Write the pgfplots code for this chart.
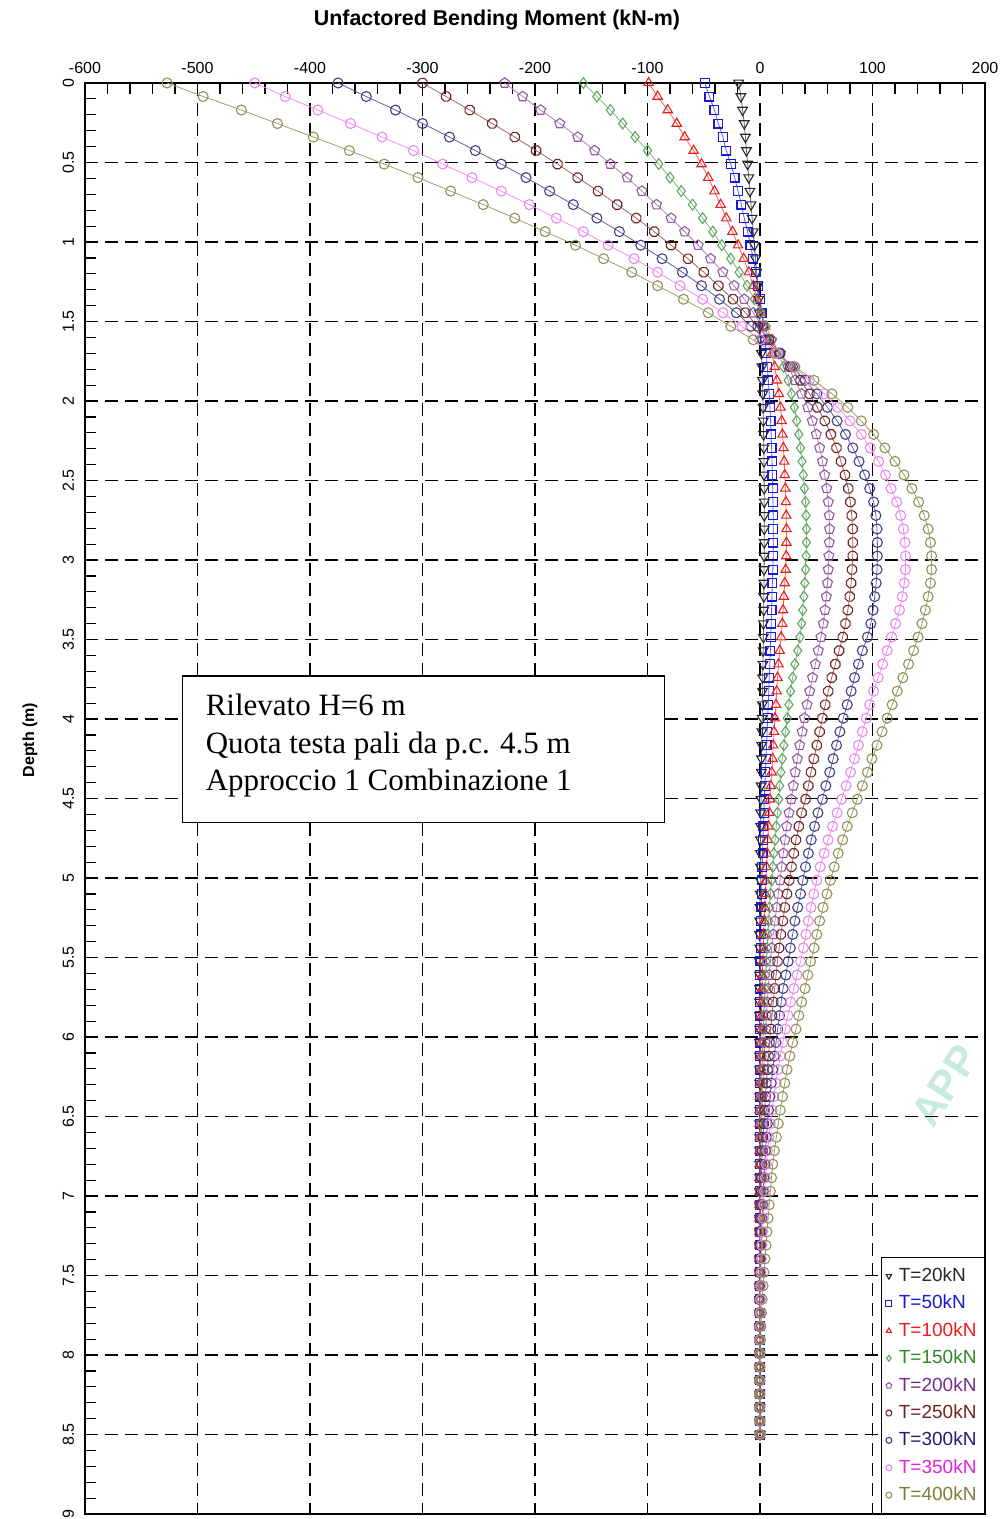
\documentclass[border=0pt]{standalone}
\usepackage{fontspec}
\setmainfont{Liberation Sans}
\newfontfamily\timesfont{Liberation Serif}
\usepackage{pgfplots}
\usepackage{pgfplotstable}
\pgfplotsset{compat=1.18}

\definecolor{c20}{RGB}{40,40,40}
\definecolor{c50}{RGB}{25,25,215}
\definecolor{c100}{RGB}{235,30,30}
\definecolor{c150}{RGB}{45,135,45}
\definecolor{c200}{RGB}{120,45,140}
\definecolor{c250}{RGB}{115,35,35}
\definecolor{c300}{RGB}{30,30,115}
\definecolor{c350}{RGB}{225,35,225}
\definecolor{c400}{RGB}{125,125,60}
\definecolor{wm}{RGB}{200,236,220}

\pgfdeclareplotmark{octagon}{%
  \pgfpathmoveto{\pgfqpointpolar{22.5}{\pgfplotmarksize}}%
  \pgfpathlineto{\pgfqpointpolar{67.5}{\pgfplotmarksize}}%
  \pgfpathlineto{\pgfqpointpolar{112.5}{\pgfplotmarksize}}%
  \pgfpathlineto{\pgfqpointpolar{157.5}{\pgfplotmarksize}}%
  \pgfpathlineto{\pgfqpointpolar{202.5}{\pgfplotmarksize}}%
  \pgfpathlineto{\pgfqpointpolar{247.5}{\pgfplotmarksize}}%
  \pgfpathlineto{\pgfqpointpolar{292.5}{\pgfplotmarksize}}%
  \pgfpathlineto{\pgfqpointpolar{337.5}{\pgfplotmarksize}}%
  \pgfpathclose
  \pgfusepathqstroke
}

\pgfplotstableread{
d t20 t50 t100 t150 t200 t250 t300 t350 t400
0 -19 -49 -99 -157 -227 -300 -375 -449 -527
0.085 -17 -45 -91 -145 -211 -279 -350 -422 -495
0.17 -15.5 -40.5 -82 -133 -195 -258 -324 -393 -461
0.255 -14 -37 -74 -122 -178 -238 -300 -364 -429
0.34 -13 -33 -67 -111 -162 -218 -276 -336 -397
0.425 -12 -30 -59 -100 -147 -199 -253 -308 -365
0.51 -11 -26 -52 -90 -133 -180 -230 -282 -334
0.595 -10 -22.5 -46 -80 -118 -162 -208 -256 -304
0.68 -9 -19.5 -40.5 -70 -105 -144 -187 -230 -275
0.765 -8 -16.5 -35 -60 -92 -127 -166 -205 -246
0.85 -7 -14 -30 -51 -79 -110 -145 -181 -218
0.935 -6 -11 -24.5 -42 -67 -94 -125 -157 -191
1.02 -5 -8.5 -19.5 -34 -55 -79 -106 -135 -164
1.105 -4 -6 -14.5 -26 -44 -64 -87 -112 -139
1.19 -3 -4 -10 -18.5 -33 -50 -69 -91 -114
1.275 -2 -2 -6 -11.5 -23 -37 -52 -71 -91
1.36 -1.2 0 -2.5 -5 -14 -24 -36 -51 -68
1.445 -0.5 1.5 1 0.5 -6 -13 -21 -33 -46
1.53 0.2 3 4.5 5.5 2 -2 -8 -16 -26
1.615 0.8 4.3 7.5 11 10 8 5 0 -6
1.7 1.3 5.5 10.5 16.5 18 18 17 15 13
1.785 1.8 6.5 13 21 25 27 29 30 31
1.87 2.2 7.4 15 25 31 36 40 44 48
1.955 2.5 8.2 16.8 28 37 44 50.5 57 64
2.04 2.8 8.8 18.2 30.5 42.5 51 60 69 78
2.125 3.0 9.4 19.2 32.6 46.5 57.5 68.5 80 90
2.21 3.2 9.9 20 34.5 50 63 76 90 101
2.295 3.4 10.3 20.8 36 53 68 82.5 98 111
2.38 3.5 10.7 21.5 37.3 55.5 72 88 105.5 120
2.465 3.6 11 22 38.5 57.5 75.5 93 111.5 128
2.55 3.7 11.3 22.5 39.5 59.3 78.5 97.5 116.5 135
2.635 3.8 11.5 23 40.5 60.7 80.3 101 121.5 141
2.72 3.8 11.7 23.3 41 61.5 81.5 103 125 146
2.805 3.8 11.8 23.5 41.3 61.8 82.3 104 127.5 149.5
2.89 3.8 11.8 23.5 41.3 61.6 82.5 104.3 128.8 151.5
2.975 3.7 11.7 23.3 41 61.2 82.4 104.3 129.3 152.5
3.06 3.6 11.4 22.8 40.5 60.7 81.8 104 129.3 152.5
3.145 3.5 11 22 39.8 60 81 103.3 128.3 151.5
3.23 3.4 10.6 21.2 39 59 79.8 102 126.5 149.5
3.315 3.3 10.3 20.5 38 57.8 78 100.5 124 147
3.4 3.1 10 19.8 37 56.3 76 98.5 120.5 144
3.485 3.0 9.6 18.8 35.5 54.2 73.5 95.5 117 140.5
3.57 2.8 9.2 17.5 33.5 51.8 70.3 91 113 136.5
3.655 2.6 8.7 16.5 31 49.2 67 87.5 109 132
3.74 2.4 8.2 15.6 29 46.7 63.7 84 105 127
3.825 2.3 7.8 14.8 27.2 44.2 60.7 81 101 122
3.91 2.1 7.3 14.2 25.7 41.8 58 77.5 97.5 117.5
3.995 1.9 6.8 13.3 24.2 39.5 55.5 74 94.5 113
4.08 1.7 6.3 12.5 22.7 37.5 53 71 91 108.5
4.165 1.5 5.8 11.8 21.2 35.3 50.5 68 87.5 104
4.25 1.3 5.3 11.2 19.8 33.2 47.8 65 84 99.5
4.335 1.2 4.8 10.4 18.6 31.3 45.3 62 80.5 95.5
4.42 1.0 4.3 9.6 17.5 29.6 43 58.5 76.5 91
4.505 0.9 3.8 8.9 16.6 27.8 40.5 55.5 72.5 86.5
4.59 0.7 3.4 8.3 15.5 25.8 37 51.5 68.5 82
4.675 0.6 3.0 7.6 14.4 23.8 34.5 48.5 64.5 77.5
4.76 0.5 2.6 7 13.4 22.2 32 45.5 60.5 73.5
4.845 0.4 2.3 6.4 12.3 20.7 30 43 57 69.5
4.93 0.3 2.0 5.8 11.3 19.2 28 40.5 53.5 66
5.015 0.2 1.7 5.2 10.4 17.7 26 38 50.5 62.5
5.1 0.1 1.4 4.7 9.3 16.2 24 36 47.8 59.5
5.185 0 1.2 4.2 8.5 14.8 22 33.5 45.3 56
5.27 -0.3 1.0 3.7 7.7 13.3 20.2 31 43 53
5.355 -0.3 0.8 3.3 7 11.8 18.5 29 40.8 50.5
5.44 -0.3 0.6 2.9 6.3 10.4 17 27 38.5 48
5.525 -0.3 0.4 2.5 5.6 9.2 15.5 25 36 45
5.61 -0.3 0.2 2.1 5 8.2 14.3 23 33 42.5
5.695 -0.3 0.1 1.8 4.4 7.3 13 20.5 30 40
5.78 -0.3 0 1.5 3.9 6.5 11.8 18.8 27.3 37
5.865 -0.3 -0.4 1.2 3.4 5.7 10.6 17.3 24.8 34.5
5.95 -0.3 -0.4 0.9 2.9 5 9.6 15.7 22.5 32
6.035 -0.3 -0.4 0.7 2.5 4.4 8.5 14.2 20.2 29
6.12 -0.3 -0.4 0.5 2.1 3.8 7.5 12.7 18 26.5
6.205 -0.3 -0.4 0.3 1.7 3.2 6.6 11.3 16 24
6.29 -0.3 -0.4 0.1 1.4 2.7 5.6 10 14 22
6.375 -0.3 -0.4 0 1.1 2.2 4.8 8.8 12.3 20
6.46 -0.3 -0.4 -0.4 0.8 1.8 4 7.6 10.8 18
6.545 -0.3 -0.4 -0.4 0.5 1.4 3.3 6.6 9.3 16.3
6.63 -0.3 -0.4 -0.4 0.3 1 2.7 5.7 8 14.5
6.715 -0.3 -0.4 -0.4 0.1 0.7 2.1 4.9 6.8 12.8
6.8 -0.3 -0.4 -0.4 0 0.4 1.6 4.2 5.7 11.3
6.885 -0.3 -0.4 -0.4 -0.4 0.2 1.2 3.5 4.8 10.2
6.97 -0.3 -0.4 -0.4 -0.4 0 0.8 2.9 4 9.2
7.055 -0.3 -0.4 -0.4 -0.4 -0.4 0.5 2.3 3.3 8.2
7.14 -0.3 -0.4 -0.4 -0.4 -0.4 0.2 1.8 2.7 7.2
7.225 -0.3 -0.4 -0.4 -0.4 -0.4 0 1.3 2.1 6.2
7.31 -0.3 -0.4 -0.4 -0.4 -0.4 -0.3 0.9 1.6 5.3
7.395 -0.3 -0.4 -0.4 -0.4 -0.4 -0.3 0.6 1.2 4.4
7.48 -0.3 -0.4 -0.4 -0.4 -0.4 -0.3 0.3 0.9 3.5
7.565 -0.3 -0.4 -0.4 -0.4 -0.4 -0.3 0.1 0.6 2.7
7.65 -0.3 -0.4 -0.4 -0.4 -0.4 -0.3 -0.1 0.4 1.9
7.735 -0.3 -0.4 -0.4 -0.4 -0.4 -0.3 -0.2 0.2 1.3
7.82 -0.3 -0.4 -0.4 -0.4 -0.4 -0.3 -0.2 0 0.8
7.905 -0.3 -0.4 -0.4 -0.4 -0.4 -0.3 -0.2 -0.2 0.4
7.99 -0.3 -0.4 -0.4 -0.4 -0.4 -0.3 -0.2 -0.2 0.1
8.075 -0.3 -0.4 -0.4 -0.4 -0.4 -0.3 -0.2 -0.2 -0.1
8.16 -0.2 -0.3 -0.3 -0.3 -0.3 -0.3 -0.2 -0.2 -0.3
8.245 -0.2 -0.3 -0.3 -0.3 -0.3 -0.3 -0.2 -0.2 -0.3
8.33 -0.1 -0.2 -0.2 -0.2 -0.2 -0.2 -0.2 -0.2 -0.3
8.415 -0.1 -0.1 -0.1 -0.1 -0.1 -0.1 -0.1 -0.1 -0.2
8.5 0 0 0 0 0 0 0 0 0
}\moment

\begin{document}
\begin{tikzpicture}
\useasboundingbox (-42.5pt,-2.5pt) rectangle (460pt,757pt);
\node[anchor=base west, rotate=57, inner sep=0pt, text=wm, font=\bfseries\fontsize{21}{23}\selectfont] at (424pt,192pt) {APP};
\begin{axis}[
  at={(0pt,0pt)}, anchor=south west,
  scale only axis, width=450pt, height=715.5pt,
  xmin=-600, xmax=200, ymin=0, ymax=9, y dir=reverse,
  xtick={-600,-500,-400,-300,-200,-100,0,100,200},
  ytick={0,0.5,1,1.5,2,2.5,3,3.5,4,4.5,5,5.5,6,6.5,7,7.5,8,8.5,9},
  minor x tick num=4, minor y tick num=4,
  xtick pos=right, ytick pos=left, xticklabel pos=right,
  tick align=inside,
  major tick length=5.5pt, minor tick length=5.5pt,
  every tick/.style={black, line width=0.6pt},
  grid=major,
  major grid style={black, line width=0.9pt, dash pattern=on 6.5pt off 3.5pt},
  axis line style={line width=0.8pt},
  ticklabel style={font=\fontsize{8}{9}\selectfont},
  yticklabel style={rotate=90, anchor=south},
  yticklabel shift=2pt,
  xticklabel shift=1pt,
  /pgf/number format/assume math mode=true,
  legend style={at={(1,0)}, anchor=south east, draw=black, line width=0.5pt,
    fill=white, font=\fontsize{9.5}{10.5}\selectfont, row sep=1.3pt,
    inner xsep=2pt, inner ysep=3pt,
    /tikz/every odd column/.append style={column sep=1.5pt}},
  legend cell align=left,
  legend image code/.code={\draw[#1, mark size=1.5pt, line width=0.5pt] plot[only marks] coordinates {(0.12cm,0cm)};},
  every axis plot/.append style={line width=0.4pt},
]
\addplot[c20!70!white, mark=triangle, mark size=2.8pt, mark options={rotate=180, c20, solid, line width=0.55pt}] table[x=t20,y=d]{\moment};
\addlegendentry{\textcolor{c20}{T=20kN}}
\addplot[c50!70!white, mark=square, mark size=2.2pt, mark options={c50, line width=0.6pt}] table[x=t50,y=d]{\moment};
\addlegendentry{\textcolor{c50}{T=50kN}}
\addplot[c100!70!white, mark=triangle, mark size=2.7pt, mark options={c100, line width=0.55pt}] table[x=t100,y=d]{\moment};
\addlegendentry{\textcolor{c100}{T=100kN}}
\addplot[c150!60!white, mark=diamond, mark size=2.7pt, mark options={c150!75!white, line width=0.55pt}] table[x=t150,y=d]{\moment};
\addlegendentry{\textcolor{c150}{T=150kN}}
\addplot[c200!60!white, mark=pentagon, mark size=2.6pt, mark options={c200!80!white, line width=0.55pt}] table[x=t200,y=d]{\moment};
\addlegendentry{\textcolor{c200}{T=200kN}}
\addplot[c250!70!white, mark=octagon, mark size=2.5pt, mark options={c250, line width=0.55pt}] table[x=t250,y=d]{\moment};
\addlegendentry{\textcolor{c250}{T=250kN}}
\addplot[c300!70!white, mark=o, mark size=2.5pt, mark options={c300!85!white, line width=0.55pt}] table[x=t300,y=d]{\moment};
\addlegendentry{\textcolor{c300}{T=300kN}}
\addplot[c350!50!white, mark=o, mark size=2.5pt, mark options={c350!55!white, line width=0.55pt}] table[x=t350,y=d]{\moment};
\addlegendentry{\textcolor{c350}{T=350kN}}
\addplot[c400!75!white, mark=o, mark size=2.5pt, mark options={c400!85!white, line width=0.55pt}] table[x=t400,y=d]{\moment};
\addlegendentry{\textcolor{c400}{T=400kN}}

\draw[fill=white, line width=0.6pt] (axis cs:-513,3.73) rectangle (axis cs:-85,4.65);
\node[anchor=base west, inner sep=0pt, font=\timesfont\fontsize{15.5}{18}\selectfont] at (axis cs:-493,3.98) {Rilevato H=6 m};
\node[anchor=base west, inner sep=0pt, font=\timesfont\fontsize{15.5}{18}\selectfont] at (axis cs:-493,4.214) {Quota testa pali da p.c. 4.5 m};
\node[anchor=base west, inner sep=0pt, font=\timesfont\fontsize{15.5}{18}\selectfont] at (axis cs:-493,4.447) {Approccio 1 Combinazione 1};
\end{axis}
\node[font=\bfseries\fontsize{10.7}{12}\selectfont] at (206pt,747pt) {Unfactored Bending Moment (kN-m)};
\node[font=\bfseries\fontsize{8}{9.5}\selectfont, rotate=90] at (-27.5pt,387pt) {Depth (m)};
\end{tikzpicture}
\end{document}
